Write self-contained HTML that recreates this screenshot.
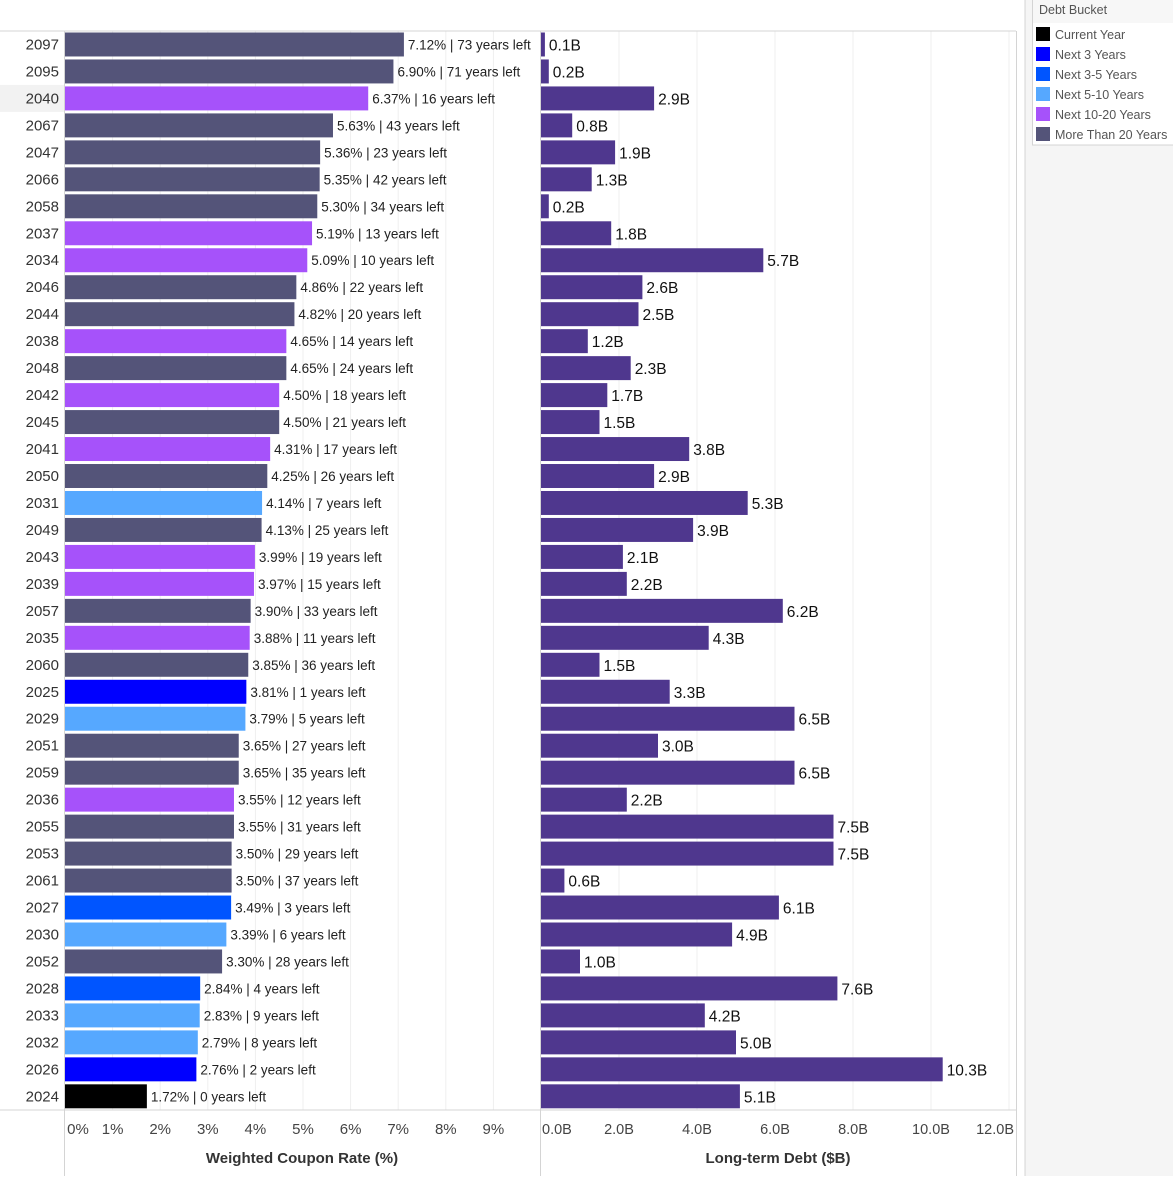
<!DOCTYPE html>
<html><head><meta charset="utf-8"><style>
html,body{margin:0;padding:0;background:#fff;}
body{width:1173px;height:1176px;overflow:hidden;font-family:"Liberation Sans",sans-serif;}
</style></head><body>
<svg id="chart" width="1173" height="1176" xmlns="http://www.w3.org/2000/svg" font-family="Liberation Sans, sans-serif"></svg>
<script>
const years=[2097,2095,2040,2067,2047,2066,2058,2037,2034,2046,2044,2038,2048,2042,2045,2041,2050,2031,2049,2043,2039,2057,2035,2060,2025,2029,2051,2059,2036,2055,2053,2061,2027,2030,2052,2028,2033,2032,2026,2024];
const rates=[7.12,6.90,6.37,5.63,5.36,5.35,5.30,5.19,5.09,4.86,4.82,4.65,4.65,4.50,4.50,4.31,4.25,4.14,4.13,3.99,3.97,3.90,3.88,3.85,3.81,3.79,3.65,3.65,3.55,3.55,3.50,3.50,3.49,3.39,3.30,2.84,2.83,2.79,2.76,1.72];
const yearsLeft=[73,71,16,43,23,42,34,13,10,22,20,14,24,18,21,17,26,7,25,19,15,33,11,36,1,5,27,35,12,31,29,37,3,6,28,4,9,8,2,0];
const debt=[0.1,0.2,2.9,0.8,1.9,1.3,0.2,1.8,5.7,2.6,2.5,1.2,2.3,1.7,1.5,3.8,2.9,5.3,3.9,2.1,2.2,6.2,4.3,1.5,3.3,6.5,3.0,6.5,2.2,7.5,7.5,0.6,6.1,4.9,1.0,7.6,4.2,5.0,10.3,5.1];
const rateTicks=[0,1,2,3,4,5,6,7,8,9];
const debtTicks=[0,2,4,6,8,10,12];
const buckets=["Current Year","Next 3 Years","Next 3-5 Years","Next 5-10 Years","Next 10-20 Years","More Than 20 Years"];
const bucketColors=["#000000","#0000ff","#0055ff","#56a8ff","#a652fa","#545479"];

const svg=document.getElementById('chart');
const NS='http://www.w3.org/2000/svg';
function el(tag,attrs,parent){const e=document.createElementNS(NS,tag);for(const k in attrs)e.setAttribute(k,attrs[k]);(parent||svg).appendChild(e);return e;}
const xR=v=>65+v*47.6;
const xD=v=>541+v*39;
const rowY=i=>31+i*26.97;
const ROWH=26.97;
function bucketOf(y){if(y===0)return 0;if(y<=2)return 1;if(y<=4)return 2;if(y<=9)return 3;if(y<=19)return 4;return 5;}

// right column background
let r=el('rect',{x:1025,y:0,width:148,height:1176,fill:'#f5f5f5'});


el('line',{x1:1025,y1:0,x2:1025,y2:1176,stroke:'#d4d4d4'});

// highlight row 2040
r=el('rect',{x:0,y:rowY(2),width:64,height:ROWH,fill:'#f2f2f2'});



// gridlines
rateTicks.forEach(t=>{if(t>0)el('line',{x1:xR(t),y1:31,x2:xR(t),y2:1110,stroke:'#efefef'});});
debtTicks.forEach(t=>{if(t>0)el('line',{x1:xD(t),y1:31,x2:xD(t),y2:1110,stroke:'#efefef'});});

// frame lines
el('line',{x1:0,y1:31,x2:1016,y2:31,stroke:'#d4d4d4'});
el('line',{x1:0,y1:1110,x2:1016,y2:1110,stroke:'#d4d4d4'});
el('line',{x1:64.5,y1:31,x2:64.5,y2:1176,stroke:'#d4d4d4'});
el('line',{x1:540.5,y1:31,x2:540.5,y2:1176,stroke:'#d4d4d4'});
el('line',{x1:1016.5,y1:31,x2:1016.5,y2:1176,stroke:'#d4d4d4'});

years.forEach((yr,i)=>{
  const y0=rowY(i), cy=y0+ROWH/2;
  let t=el('text',{x:59,y:cy+5,'text-anchor':'end','font-size':15,fill:'#333'});t.textContent=yr;
  
  
  let b=el('rect',{x:65,y:y0+1.5,width:xR(rates[i])-65,height:ROWH-3,fill:bucketColors[bucketOf(yearsLeft[i])]});
  
  
  t=el('text',{x:xR(rates[i])+4,y:cy+5,'font-size':13.5,fill:'#222'});t.textContent=rates[i].toFixed(2)+'% | '+yearsLeft[i]+' years left';
  
  
  b=el('rect',{x:541,y:y0+1.5,width:xD(debt[i])-541,height:ROWH-3,fill:'#4f378e'});
  
  
  t=el('text',{x:xD(debt[i])+4,y:cy+6,'font-size':15.5,fill:'#111'});t.textContent=debt[i].toFixed(1)+'B';
  
  
});

rateTicks.forEach(t=>{
  const x=t===0?78:xR(t);
  const e=el('text',{x:x,y:1134,'text-anchor':'middle','font-size':15,fill:'#444'});e.textContent=t+'%';
  
  
});
debtTicks.forEach(t=>{
  let x=xD(t),a='middle';
  if(t===0){x=542;a='start';} if(t===12){x=1014;a='end';}
  const e=el('text',{x:x,y:1134,'text-anchor':a,'font-size':14.5,fill:'#444'});e.textContent=t.toFixed(1)+'B';
  
  
});
let tt=el('text',{x:302,y:1163,'text-anchor':'middle','font-size':15,'font-weight':'bold',fill:'#333'});tt.textContent='Weighted Coupon Rate (%)';


tt=el('text',{x:778,y:1163,'text-anchor':'middle','font-size':15,'font-weight':'bold',fill:'#333'});tt.textContent='Long-term Debt ($B)';



// legend
const lg=el('g',{});


el('rect',{x:1032.5,y:-1,width:142,height:146,fill:'#fff',stroke:'#d4d4d4'},lg);
el('rect',{x:1033,y:0,width:140,height:23,fill:'#f7f7f7'},lg);
let lt=el('text',{x:1039,y:14,'font-size':12.5,fill:'#555'},lg);lt.textContent='Debt Bucket';
buckets.forEach((n,i)=>{
  const g=el('g',{},lg);
  
  
  el('rect',{x:1036,y:27+i*20,width:14,height:14,fill:bucketColors[i]},g);
  const t=el('text',{x:1055,y:39+i*20,'font-size':12.5,fill:'#555'},g);t.textContent=n;
});
</script>
</body></html>
